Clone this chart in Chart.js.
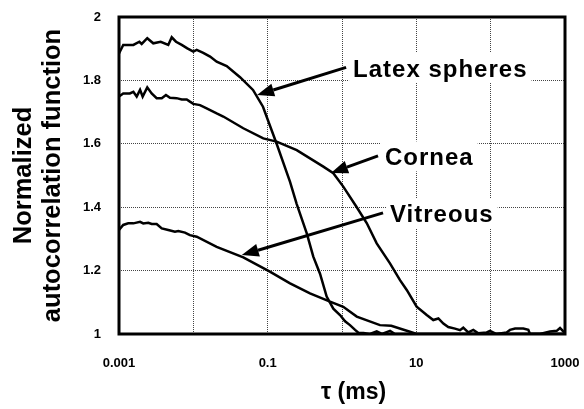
<!DOCTYPE html>
<html>
<head>
<meta charset="utf-8">
<script src="https://cdn.jsdelivr.net/npm/chart.js@4.4.1/dist/chart.umd.min.js"></script>
<style>
  body { margin: 0; background: #fff; }
</style>
</head>
<body>
<canvas id="acf" width="584" height="409"></canvas>
<script>
// tau in ms, g = normalized autocorrelation
var tauLatex = [0.001, 0.00114, 0.00156, 0.00188, 0.00202, 0.0024, 0.00289, 0.00364, 0.0046, 0.00512,
  0.00585, 0.00698, 0.0083, 0.01, 0.0111, 0.0136, 0.0168, 0.0206, 0.0281, 0.0425,
  0.0635, 0.0865, 0.132, 0.2, 0.246, 0.335, 0.411, 0.506, 0.622, 0.764,
  0.94, 1.1, 1.28, 1.5, 1.66, 1.94, 2.38, 2.93, 3.45, 4.43,
  5.17, 10, 100, 1000];
var gLatex = [1.885, 1.912, 1.912, 1.922, 1.915, 1.933, 1.917, 1.922, 1.912, 1.936,
  1.922, 1.912, 1.901, 1.891, 1.896, 1.887, 1.875, 1.859, 1.845, 1.81,
  1.77, 1.717, 1.60, 1.48, 1.41, 1.318, 1.244, 1.19, 1.118, 1.08,
  1.06, 1.04, 1.028, 1.013, 1.004, 1.003, 1.0, 1.008, 1.0, 1.01,
  1.0, 1.0, 1.0, 1.0];

var tauCornea = [0.001, 0.00114, 0.0014, 0.00156, 0.00173, 0.00192, 0.00208, 0.0024, 0.00275, 0.00321,
  0.00376, 0.00428, 0.00485, 0.00596, 0.00698, 0.00815, 0.009, 0.01, 0.0123, 0.0151,
  0.0206, 0.0253, 0.047, 0.0873, 0.132, 0.246, 0.561, 0.764, 1.04, 1.58,
  2.15, 2.93, 4.42, 6.03, 7.43, 10.1, 13.8, 16.9, 19.8, 23.1,
  26.9, 33.1, 38.7, 42.8, 50, 58.4, 68.2, 88.5, 98, 120,
  164, 182, 213, 275, 321, 338, 461, 629, 773, 857,
  949, 1000];
var gCornea = [1.749, 1.759, 1.759, 1.764, 1.749, 1.770, 1.749, 1.778, 1.759, 1.744,
  1.744, 1.754, 1.745, 1.744, 1.74, 1.74, 1.733, 1.726, 1.722, 1.712,
  1.696, 1.686, 1.649, 1.617, 1.607, 1.58, 1.528, 1.507, 1.465, 1.40,
  1.35, 1.286, 1.223, 1.17, 1.139, 1.086, 1.06, 1.044, 1.049, 1.033,
  1.022, 1.017, 1.012, 1.02, 1.005, 1.013, 1.002, 1.005, 1.01, 1.0,
  1.005, 1.013, 1.017, 1.017, 1.013, 1.0, 1.0, 1.008, 1.01, 1.019,
  1.008, 1.005];

var tauVitreous = [0.001, 0.00114, 0.00133, 0.00156, 0.00192, 0.00212, 0.00248, 0.00275, 0.00321, 0.00376,
  0.0046, 0.00566, 0.00627, 0.00772, 0.009, 0.0111, 0.0206, 0.047, 0.107, 0.2,
  0.371, 0.69, 1.04, 1.58, 3.24, 4.6, 8.2, 10.1, 100, 1000];
var gVitreous = [1.328, 1.344, 1.349, 1.349, 1.354, 1.349, 1.351, 1.347, 1.347, 1.333,
  1.328, 1.323, 1.325, 1.320, 1.312, 1.307, 1.275, 1.242, 1.197, 1.16,
  1.128, 1.102, 1.086, 1.055, 1.028, 1.026, 1.007, 1.0, 1.0, 1.0];

var xTickValues = [0.001, 0.01, 0.1, 1, 10, 100, 1000];
var xTickLabels = ['0.001', '', '0.1', '', '10', '', '1000'];
var yTickValues = [1, 1.2, 1.4, 1.6, 1.8, 2];
var yTickLabels = ['1', '1.2', '1.4', '1.6', '1.8', '2'];

// labels with arrows: text anchor (left, baseline) and arrow tip, in data units
var notes = [
  { text: 'Latex spheres', tau: 1.41, g: 1.811, tipTau: 0.072, tipG: 1.754 },
  { text: 'Cornea', tau: 3.79, g: 1.532, tipTau: 0.711, tipG: 1.508 },
  { text: 'Vitreous', tau: 4.43, g: 1.352, tipTau: 0.0448, tipG: 1.249 }
];

var FONT = '"Liberation Sans", Arial, Helvetica, sans-serif';
Chart.defaults.color = '#000';

function series(tau, g) {
  return {
    data: tau.map(function (t, i) { return { x: t, y: g[i] }; }),
    borderColor: '#000',
    borderWidth: 2.5,
    pointRadius: 0,
    tension: 0,
    fill: false
  };
}

function noteFont(ctx) {
  ctx.font = 'bold 24px ' + FONT;
  ctx.letterSpacing = '1px';
}

// white boxes behind the labels (they hide the grid)
const noteBoxes = {
  id: 'noteBoxes',
  beforeDatasetsDraw(chart) {
    const { ctx, scales: { x, y } } = chart;
    ctx.save();
    noteFont(ctx);
    ctx.fillStyle = '#fff';
    notes.forEach(function (n) {
      const px = x.getPixelForValue(n.tau);
      const py = y.getPixelForValue(n.g);
      const w = ctx.measureText(n.text).width;
      ctx.fillRect(px - 4, py - 24, w + 8, 30);
    });
    ctx.restore();
  }
};

// frame, label texts and arrows
const frameAndNotes = {
  id: 'frameAndNotes',
  afterDatasetsDraw(chart) {
    const { ctx, chartArea: { left, top, width, height }, scales: { x, y } } = chart;
    ctx.save();
    ctx.strokeStyle = '#000';
    ctx.lineWidth = 3;
    ctx.strokeRect(left, top, width, height);

    noteFont(ctx);
    ctx.fillStyle = '#000';
    ctx.textBaseline = 'alphabetic';
    notes.forEach(function (n) {
      const px = x.getPixelForValue(n.tau);
      const py = y.getPixelForValue(n.g);
      ctx.fillText(n.text, px, py);

      const tx = px - 7, ty = py - 9.5;
      const hx = x.getPixelForValue(n.tipTau);
      const hy = y.getPixelForValue(n.tipG);
      const len = Math.hypot(hx - tx, hy - ty);
      const ux = (hx - tx) / len, uy = (hy - ty) / len;
      const bx = hx - ux * 17, by = hy - uy * 17;
      ctx.lineWidth = 3;
      ctx.beginPath();
      ctx.moveTo(tx, ty);
      ctx.lineTo(bx, by);
      ctx.stroke();
      ctx.beginPath();
      ctx.moveTo(hx, hy);
      ctx.lineTo(bx - uy * 6.5, by + ux * 6.5);
      ctx.lineTo(bx + uy * 6.5, by - ux * 6.5);
      ctx.closePath();
      ctx.fill();
    });
    ctx.restore();
  }
};

const acfChart = new Chart(document.getElementById('acf'), {
  type: 'line',
  data: {
    datasets: [
      series(tauLatex, gLatex),
      series(tauCornea, gCornea),
      series(tauVitreous, gVitreous)
    ]
  },
  options: {
    responsive: false,
    animation: false,
    layout: { padding: { top: 17, right: 19, left: 0, bottom: 0 } },
    plugins: {
      legend: { display: false },
      tooltip: { enabled: false }
    },
    scales: {
      x: {
        type: 'logarithmic',
        min: 0.001,
        max: 1000,
        afterBuildTicks: function (s) { s.ticks = xTickValues.map(function (v) { return { value: v }; }); },
        afterFit: function (s) { s.height = 75; s.paddingLeft = 0; s.paddingRight = 0; },
        ticks: {
          autoSkip: false,
          maxRotation: 0,
          padding: 22,
          color: '#000',
          font: { family: FONT, size: 13, weight: 'bold' },
          callback: function (v, i) { return xTickLabels[i]; }
        },
        grid: { color: '#444', lineWidth: 1, drawTicks: false },
        border: { display: false, dash: [1, 1] },
        title: {
          display: true,
          text: '\u2003\u03c4 (ms)',
          color: '#000',
          font: { family: FONT, size: 23, weight: 'bold', lineHeight: 1.15 },
          padding: { top: 0, bottom: 3 }
        }
      },
      y: {
        min: 1,
        max: 2,
        afterBuildTicks: function (s) { s.ticks = yTickValues.map(function (v) { return { value: v }; }); },
        afterFit: function (s) { s.width = 119; s.paddingTop = 0; s.paddingBottom = 0; },
        ticks: {
          padding: 18,
          color: '#000',
          font: { family: FONT, size: 13, weight: 'bold' },
          callback: function (v, i) { return yTickLabels[i]; }
        },
        grid: { color: '#444', lineWidth: 1, drawTicks: false },
        border: { display: false, dash: [1, 1] },
        title: {
          display: true,
          text: ['Normalized', 'autocorrelation function'],
          color: '#000',
          font: { family: FONT, size: 25.5, weight: 'bold', lineHeight: 1.1176 },
          padding: { top: 9.75, bottom: 0 }
        }
      }
    }
  },
  plugins: [noteBoxes, frameAndNotes]
});
</script>
</body>
</html>
